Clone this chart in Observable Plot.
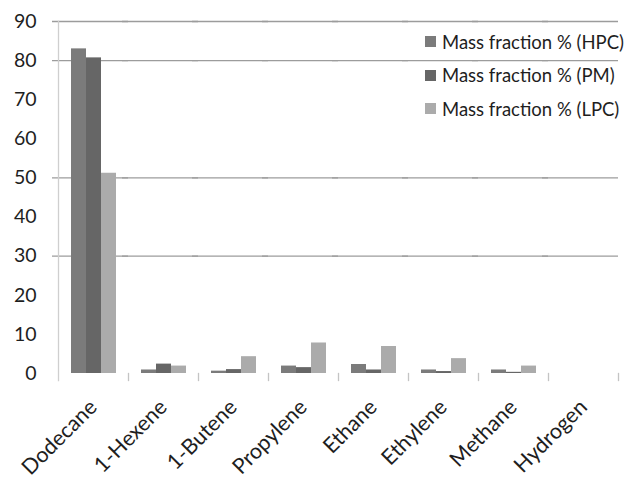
<!DOCTYPE html>
<html lang="en">
<head>
    <meta charset="UTF-8">
    <title>Mass fraction by product</title>
    <script src="https://cdn.jsdelivr.net/npm/d3@7"></script>
    <script src="https://cdn.jsdelivr.net/npm/@observablehq/plot@0.6"></script>
    <style>
        body {
            margin: 0;
            background: #fff;
            font-family: Lato, "Open Sans", sans-serif;
        }

        #wrap {
            position: relative;
            width: 628px;
            height: 480px;
        }

        #legend {
            position: absolute;
            left: 425px;
            top: 25px;
            font-size: 18.5px;
            color: #1e1e1e;
        }

        #legend div {
            display: flex;
            align-items: center;
            height: 33.5px;
            white-space: nowrap;
        }

        #legend span.sw {
            display: inline-block;
            width: 11px;
            height: 11px;
            margin-right: 6px;
        }
    </style>
</head>
<body>
<div id="wrap">
    <div id="myplot"></div>
    <div id="legend"></div>
</div>

<script>
    const categories = ["Dodecane", "1-Hexene", "1-Butene", "Propylene", "Ethane", "Ethylene", "Methane", "Hydrogen"];
    const seriesNames = ["Mass fraction % (HPC)", "Mass fraction % (PM)", "Mass fraction % (LPC)"];
    const hpc = [83.0, 0.9, 0.6, 1.9, 2.3, 0.9, 0.9, 0];
    const pm = [80.7, 2.4, 1.0, 1.5, 0.9, 0.5, 0.3, 0];
    const lpc = [51.2, 1.9, 4.3, 7.8, 6.9, 3.8, 1.9, 0];
    const yTicks = [0, 10, 20, 30, 40, 50, 60, 70, 80, 90];
    // only these grid lines survive in the original figure
    const gridValues = [30, 50, 80, 90];
    const colors = ["#7b7b7b", "#666666", "#ababab"];

    const values = [hpc, pm, lpc];
    const rows = [];
    categories.forEach((c, i) => {
        seriesNames.forEach((s, j) => rows.push({ category: c, series: s, value: values[j][i] }));
    });

    const chart = Plot.plot({
        width: 628,
        height: 480,
        marginLeft: 58,
        marginRight: 10,
        marginTop: 21,
        marginBottom: 107,
        style: { fontFamily: "Lato, 'Open Sans', sans-serif", fontSize: "19px", color: "#1e1e1e" },
        fx: { domain: categories, padding: 0 },
        x: { domain: seriesNames, paddingInner: 0, paddingOuter: 0.79, axis: null },
        y: { domain: [0, 90] },
        color: { domain: seriesNames, range: colors },
        marks: [
            Plot.ruleY(gridValues, { stroke: "#9c9c9c", strokeWidth: 1.3, insetLeft: -6 }),
            Plot.frame({ anchor: "left", stroke: "#cfcfcf", strokeWidth: 1.3, insetBottom: -7, facet: "super" }),
            Plot.frame({ anchor: "right", stroke: "#c4c4c4", strokeWidth: 1.3, insetTop: 352, insetBottom: -7 }),
            Plot.barY(rows, { fx: "category", x: "series", y: "value", fill: "series" }),
            Plot.axisY(yTicks, { tickSize: 0, tickPadding: 22, fontSize: 19.5, label: null }),
            Plot.axisFx({ anchor: "bottom", tickRotate: -45, tickSize: 0, tickPadding: 30, fontSize: 21.5, label: null })
        ]
    });

    document.getElementById("myplot").appendChild(chart);

    const legend = document.getElementById("legend");
    seriesNames.forEach((s, j) => {
        const row = document.createElement("div");
        row.innerHTML = `<span class="sw" style="background:${colors[j]}"></span>${s}`;
        legend.appendChild(row);
    });
</script>
</body>
</html>
